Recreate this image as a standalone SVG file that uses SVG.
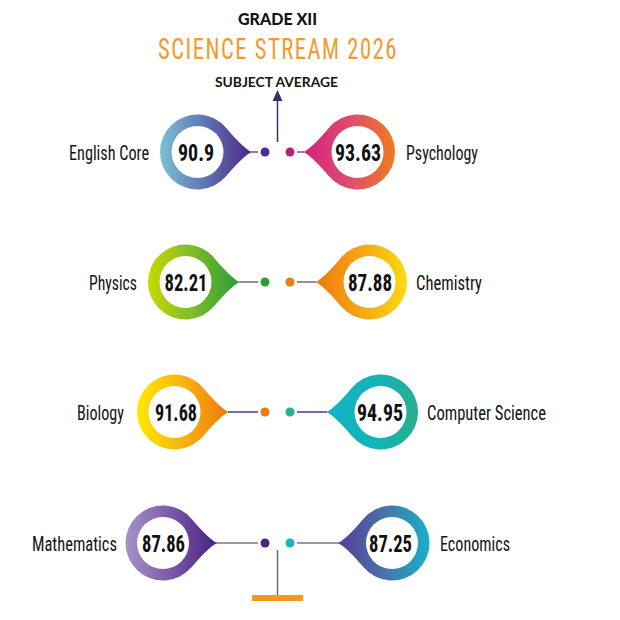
<svg xmlns="http://www.w3.org/2000/svg" width="620" height="620" viewBox="0 0 620 620">
<style>
.lbl{font-family:"Roboto Condensed","DejaVu Sans Condensed","DejaVu Sans",sans-serif;font-size:20.5px;fill:#141414;}
.num{font-family:"Roboto Condensed","DejaVu Sans Condensed","DejaVu Sans",sans-serif;font-weight:bold;font-size:24.5px;fill:#111;text-anchor:middle;}
.hole{fill:#fff;}
.ln{stroke-width:1.5;fill:none;}
</style>
<defs>
<linearGradient id="gEng" x1="0" y1="0" x2="1" y2="0"><stop offset="0" stop-color="#7cc0d2"/><stop offset="0.5" stop-color="#5f74b2"/><stop offset="1" stop-color="#4a2784"/></linearGradient>
<linearGradient id="gPsy" x1="0" y1="0" x2="1" y2="0"><stop offset="0" stop-color="#d2227f"/><stop offset="0.55" stop-color="#e0506a"/><stop offset="1" stop-color="#f07c1e"/></linearGradient>
<linearGradient id="gPhy" x1="0" y1="0" x2="1" y2="0"><stop offset="0" stop-color="#c8d800"/><stop offset="0.5" stop-color="#7bbb2a"/><stop offset="1" stop-color="#279c37"/></linearGradient>
<linearGradient id="gChe" x1="0" y1="0" x2="1" y2="0"><stop offset="0" stop-color="#ef7a0c"/><stop offset="0.5" stop-color="#f6a514"/><stop offset="1" stop-color="#ffda12"/></linearGradient>
<linearGradient id="gBio" x1="0" y1="0" x2="1" y2="0"><stop offset="0" stop-color="#ffe800"/><stop offset="0.5" stop-color="#f8b410"/><stop offset="1" stop-color="#ef790b"/></linearGradient>
<linearGradient id="gCs" x1="0" y1="0" x2="1" y2="0"><stop offset="0" stop-color="#10b4c8"/><stop offset="0.6" stop-color="#14b3b4"/><stop offset="1" stop-color="#2aae8a"/></linearGradient>
<linearGradient id="gMat" x1="0" y1="0" x2="1" y2="0"><stop offset="0" stop-color="#a892c8"/><stop offset="0.5" stop-color="#7a58a8"/><stop offset="1" stop-color="#47217f"/></linearGradient>
<linearGradient id="gEco" x1="0" y1="0" x2="1" y2="0"><stop offset="0" stop-color="#563c98"/><stop offset="0.5" stop-color="#4a72aa"/><stop offset="1" stop-color="#16b2c8"/></linearGradient>
</defs>

<g id="header">
<text x="277.5" y="25" text-anchor="middle" font-family="Lato, 'DejaVu Sans', sans-serif" font-weight="900" font-size="16" fill="#141414" textLength="79" lengthAdjust="spacingAndGlyphs">GRADE XII</text>
<text x="278" y="59" text-anchor="middle" font-family="'Roboto Condensed', Roboto, 'DejaVu Sans Condensed', sans-serif" font-weight="normal" font-size="30" fill="#f29a2e" letter-spacing="2" textLength="240" lengthAdjust="spacingAndGlyphs">SCIENCE STREAM 2026</text>
<text x="276.5" y="87" text-anchor="middle" font-family="Lato, 'DejaVu Sans', sans-serif" font-weight="bold" font-size="13.5" fill="#141414" textLength="123" lengthAdjust="spacingAndGlyphs">SUBJECT AVERAGE</text>
</g>

<g id="connectors">
<line class="ln" x1="277.5" y1="142" x2="277.5" y2="99" stroke="#3d2f6b"/>
<polygon points="277.5,90 272.5,101 282.5,101" fill="#3d2f6b"/>
<line class="ln" x1="251" y1="152" x2="258" y2="152" stroke="#5d5880"/>
<line class="ln" x1="297" y1="152" x2="304" y2="152" stroke="#5d5880"/>
<circle cx="265" cy="152" r="4.5" fill="#4a2c8c"/>
<circle cx="290" cy="152" r="4.5" fill="#b5237f"/>
<line class="ln" x1="239" y1="282" x2="258" y2="282" stroke="#6e6a84"/>
<line class="ln" x1="297" y1="282" x2="316" y2="282" stroke="#6e6a84"/>
<circle cx="265" cy="282" r="4.5" fill="#2e9e38"/>
<circle cx="290" cy="282" r="4.5" fill="#ee7a10"/>
<line class="ln" x1="228" y1="412" x2="258" y2="412" stroke="#4b3b8c"/>
<line class="ln" x1="297" y1="412" x2="327" y2="412" stroke="#4b3b8c"/>
<circle cx="265" cy="412" r="4.5" fill="#ee7a10"/>
<circle cx="290" cy="412" r="4.5" fill="#2aae90"/>
<line class="ln" x1="216" y1="543" x2="258" y2="543" stroke="#77778a"/>
<line class="ln" x1="297" y1="543" x2="339" y2="543" stroke="#77778a"/>
<circle cx="265" cy="543" r="4.5" fill="#4a2580"/>
<circle cx="290" cy="543" r="4.5" fill="#1ab5c2"/>
<line class="ln" x1="277.5" y1="550" x2="277.5" y2="595" stroke="#6a6a80"/>
<rect x="252" y="595" width="51" height="6" fill="#f39a1e"/>
</g>

<g id="node-english">
<path d="M251.5,152 Q242.3,147.05 226.2,127.9 A37.5,37.5 0 1 0 226.2,176.1 Q242.3,156.95 251.5,152 Z" fill="url(#gEng)"/>
<circle class="hole" cx="197.5" cy="152" r="26"/>
<text class="num" x="196" y="160.5" textLength="36" lengthAdjust="spacingAndGlyphs">90.9</text>
<text class="lbl" x="149" y="159.5" text-anchor="end" textLength="80" lengthAdjust="spacingAndGlyphs">English Core</text>
</g>

<g id="node-psychology">
<path d="M303.5,152 Q312.7,147.05 328.8,127.9 A37.5,37.5 0 1 1 328.8,176.1 Q312.7,156.95 303.5,152 Z" fill="url(#gPsy)"/>
<circle class="hole" cx="357.5" cy="152" r="26"/>
<text class="num" x="358" y="160.5" textLength="46" lengthAdjust="spacingAndGlyphs">93.63</text>
<text class="lbl" x="406" y="159.5" textLength="72" lengthAdjust="spacingAndGlyphs">Psychology</text>
</g>

<g id="node-physics">
<path d="M239.5,282 Q230.3,277.05 214.2,257.9 A37.5,37.5 0 1 0 214.2,306.1 Q230.3,286.95 239.5,282 Z" fill="url(#gPhy)"/>
<circle class="hole" cx="185.5" cy="282" r="26"/>
<text class="num" x="186" y="290.5" textLength="43" lengthAdjust="spacingAndGlyphs">82.21</text>
<text class="lbl" x="137" y="289.5" text-anchor="end" textLength="48" lengthAdjust="spacingAndGlyphs">Physics</text>
</g>

<g id="node-chemistry">
<path d="M315.5,282 Q324.7,277.05 340.8,257.9 A37.5,37.5 0 1 1 340.8,306.1 Q324.7,286.95 315.5,282 Z" fill="url(#gChe)"/>
<circle class="hole" cx="369.5" cy="282" r="26"/>
<text class="num" x="370" y="290.5" textLength="44" lengthAdjust="spacingAndGlyphs">87.88</text>
<text class="lbl" x="416" y="289.5" textLength="66" lengthAdjust="spacingAndGlyphs">Chemistry</text>
</g>

<g id="node-biology">
<path d="M228.5,412 Q219.3,407.05 203.2,387.9 A37.5,37.5 0 1 0 203.2,436.1 Q219.3,416.95 228.5,412 Z" fill="url(#gBio)"/>
<circle class="hole" cx="174.5" cy="412" r="26"/>
<text class="num" x="176" y="420.5" textLength="42" lengthAdjust="spacingAndGlyphs">91.68</text>
<text class="lbl" x="124" y="419.5" text-anchor="end" textLength="47" lengthAdjust="spacingAndGlyphs">Biology</text>
</g>

<g id="node-computer-science">
<path d="M326.5,412 Q335.7,407.05 351.8,387.9 A37.5,37.5 0 1 1 351.8,436.1 Q335.7,416.95 326.5,412 Z" fill="url(#gCs)"/>
<circle class="hole" cx="380.5" cy="412" r="26"/>
<text class="num" x="380" y="420.5" textLength="46" lengthAdjust="spacingAndGlyphs">94.95</text>
<text class="lbl" x="427" y="419.5" textLength="119" lengthAdjust="spacingAndGlyphs">Computer Science</text>
</g>

<g id="node-mathematics">
<path d="M217,543 Q207.8,538.05 191.7,518.9 A37.5,37.5 0 1 0 191.7,567.1 Q207.8,547.95 217,543 Z" fill="url(#gMat)"/>
<circle class="hole" cx="163" cy="543" r="26"/>
<text class="num" x="163.5" y="551.5" textLength="43" lengthAdjust="spacingAndGlyphs">87.86</text>
<text class="lbl" x="117" y="550.5" text-anchor="end" textLength="85" lengthAdjust="spacingAndGlyphs">Mathematics</text>
</g>

<g id="node-economics">
<path d="M338,543 Q347.2,538.05 363.3,518.9 A37.5,37.5 0 1 1 363.3,567.1 Q347.2,547.95 338,543 Z" fill="url(#gEco)"/>
<circle class="hole" cx="392" cy="543" r="26"/>
<text class="num" x="390.5" y="551.5" textLength="43" lengthAdjust="spacingAndGlyphs">87.25</text>
<text class="lbl" x="440" y="550.5" textLength="70" lengthAdjust="spacingAndGlyphs">Economics</text>
</g>
</svg>
